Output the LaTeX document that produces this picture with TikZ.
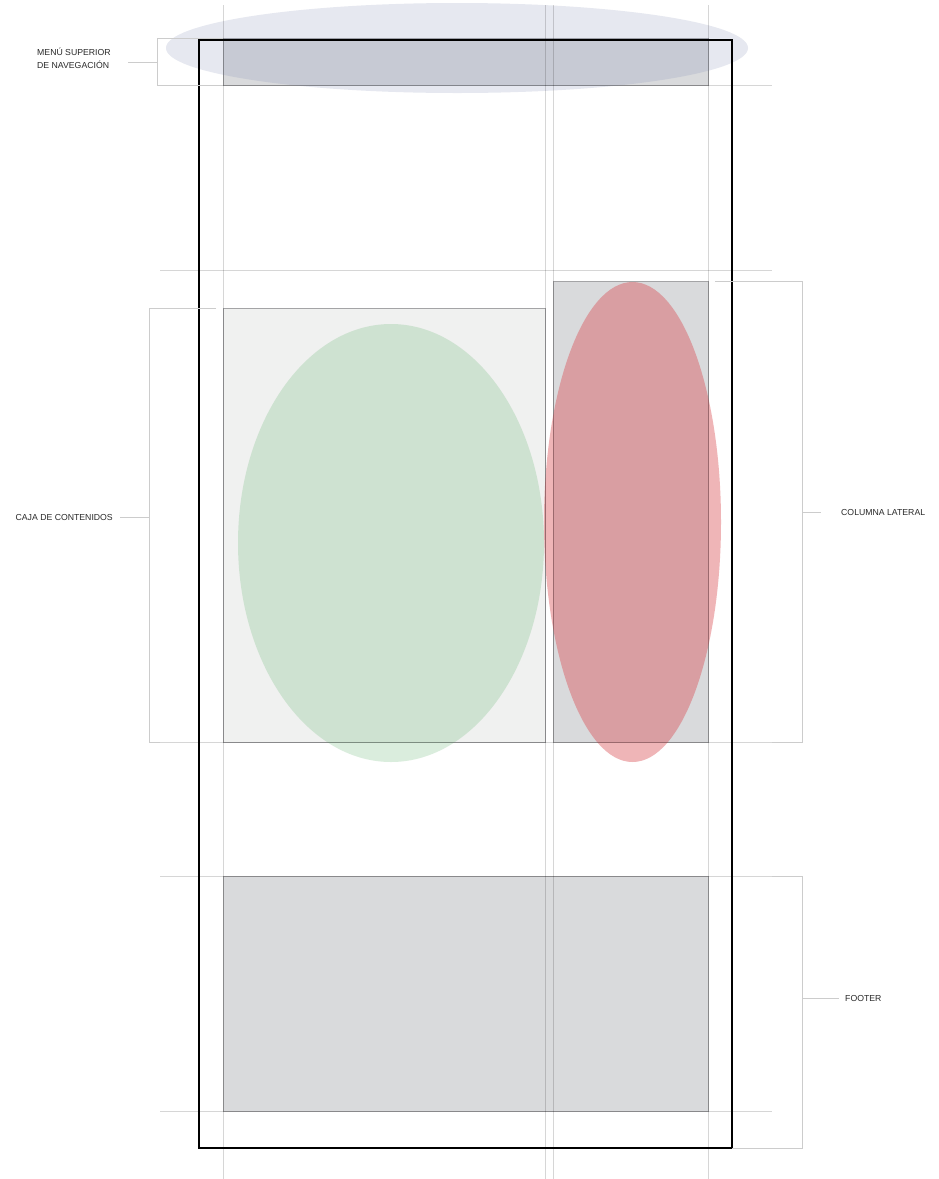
\documentclass[tikz,border=0pt]{standalone}
\usepackage{fontspec}
\setmainfont{Liberation Sans}
\usetikzlibrary{positioning}
\definecolor{Ink}{HTML}{2A2A2A}
\definecolor{Edge}{HTML}{A4A4A6}
\definecolor{Block}{HTML}{D9DADC}
\definecolor{Paper}{HTML}{F0F1F0}
\definecolor{Navy}{HTML}{828CB4}
\definecolor{Green}{HTML}{6CB878}
\definecolor{Coral}{HTML}{D9464D}
\colorlet{ink}{Ink}
\colorlet{edge}{Edge}
\colorlet{block}{Block}
\colorlet{paper}{Paper}

\begin{document}
\begin{tikzpicture}[x=1pt,y=-1pt,every node/.style={font=\fontsize{8.7}{13}\selectfont,text=ink,inner sep=0pt,align=left},guide/.style={draw=black,draw opacity=0.16,line width=1pt},bracket/.style={draw=black!20,line width=0.9pt},box/.style={draw=edge,line width=0.8pt}]
\useasboundingbox (0,0) rectangle (939,1179);
\fill[white] (0,0) rectangle (939,1179);
\draw[box,fill=block] (223,38) rectangle (708,85);\draw[box,fill=paper] (223,308) rectangle (545,742);\draw[box,fill=block] (553,281) rectangle (708,742);\draw[box,fill=block] (223,876) rectangle (708,1111);
\fill[Navy,opacity=0.2] (457,48) ellipse [x radius=291pt,y radius=45pt];
\fill[Green,opacity=0.25] (391,543) ellipse [x radius=153pt,y radius=219pt];
\fill[Coral,opacity=0.4] (632.5,522) ellipse [x radius=88.5pt,y radius=240pt];
\foreach \y in {85,270,742,876,1111} \draw[guide] (160,\y) -- (772,\y);
\foreach \x in {223,545,553,708} \draw[guide] (\x,5) -- (\x,1179);
\draw[line width=2pt] (199,40) rectangle (732,1148);
\draw[bracket] (223,38) -- (157,38) -- (157,85) -- (223,85);\draw[bracket] (216,308) -- (149,308) -- (149,742) -- (160,742);
\draw[bracket] (715,281) -- (802,281) -- (802,742) -- (772,742);\draw[bracket] (772,876) -- (802,876) -- (802,1148) -- (732,1148);
\coordinate (navtick) at (128,62);\coordinate (cajatick) at (120,517);\coordinate (coltick) at (821,512);\coordinate (foottick) at (839,998);
\node[anchor=west] (nav) at (37,58) {MENÚ SUPERIOR\\DE NAVEGACIÓN};
\node[left=7pt of cajatick] (caja) {CAJA DE CONTENIDOS};
\node[right=20pt of coltick] (col) {COLUMNA LATERAL};
\node[right=6pt of foottick] (foot) {FOOTER};
\draw[bracket] (157,62) -- (navtick);\draw[bracket] (149,517) -- (cajatick);\draw[bracket] (802,512) -- (coltick);\draw[bracket] (802,998) -- (foottick);
\end{tikzpicture}
\end{document}
